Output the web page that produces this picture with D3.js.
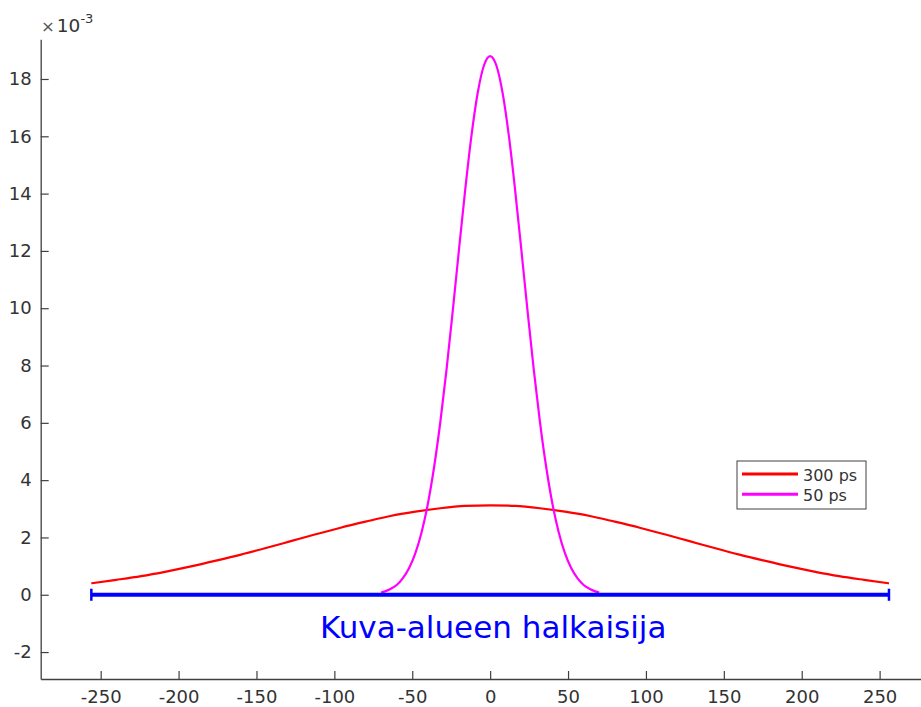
<!DOCTYPE html>
<html>
<head>
<meta charset="utf-8">
<script src="https://cdn.jsdelivr.net/npm/d3@7"></script>
<style>
  html, body { margin: 0; padding: 0; background: #ffffff; }
  svg { display: block; }
  text { font-family: "DejaVu Sans", sans-serif; }
</style>
</head>
<body>
<script>
// Position along the detector (mm) and the resulting blur profiles (×10^-3)
const redX = [-256, -240, -224, -208, -192, -176, -160, -144, -128, -112, -96, -80, -64, -48, -32, -16,
              0, 16, 32, 48, 64, 80, 96, 112, 128, 144, 160, 176, 192, 208, 224, 240, 256];
const redY = [0.40, 0.52, 0.65, 0.81, 0.99, 1.19, 1.40, 1.63, 1.87, 2.11, 2.34, 2.55, 2.75, 2.90, 3.02, 3.10,
              3.12, 3.10, 3.02, 2.90, 2.75, 2.55, 2.34, 2.11, 1.87, 1.63, 1.40, 1.19, 0.99, 0.81, 0.65, 0.52, 0.40];

const magX = [-70, -68, -64, -60, -56, -52, -48, -44, -40, -36, -32, -28, -24, -20, -16, -12, -8, -4,
              0, 4, 8, 12, 16, 20, 24, 28, 32, 36, 40, 44, 48, 52, 56, 60, 64, 68, 70];
const magY = [0.08, 0.11, 0.20, 0.34, 0.58, 0.93, 1.45, 2.18, 3.17, 4.45, 6.02, 7.86, 9.91, 12.05, 14.14, 16.02, 17.51, 18.47,
              18.80, 18.47, 17.51, 16.02, 14.14, 12.05, 9.91, 7.86, 6.02, 4.45, 3.17, 2.18, 1.45, 0.93, 0.58, 0.34, 0.20, 0.11, 0.08];

// Field-of-view diameter bar
const barX = [-256, 256];
const barY = 0;
const barCap = 0.21;

const seriesNames = ["300 ps", "50 ps"];
const seriesColors = ["#ff0000", "#ff00ff"];
const xTicks = [-250, -200, -150, -100, -50, 0, 50, 100, 150, 200, 250];
const yTicks = [-2, 0, 2, 4, 6, 8, 10, 12, 14, 16, 18];
const barLabel = "Kuva-alueen halkaisija";

const W = 921, H = 707;
const axisColor = "#404040", textColor = "#333333";

const svg = d3.select("body").append("svg")
  .attr("width", W).attr("height", H);

const x = d3.scaleLinear().domain([-288.5, 288.5]).range([40.7, 939.6]);
const y = d3.scaleLinear().domain([-2.94, 19.385]).range([679, 39.3]);

// Plain hyphen-minus for negative tick labels
const fmt = v => String(v);

// Axes (ticks point inward)
const xAxis = d3.axisBottom(x).tickValues(xTicks).tickFormat(fmt)
  .tickSizeInner(-8).tickSizeOuter(0).tickPadding(11);
const yAxis = d3.axisLeft(y).tickValues(yTicks).tickFormat(fmt)
  .tickSizeInner(-8).tickSizeOuter(0).tickPadding(9);

const gx = svg.append("g").attr("transform", `translate(0,${y.range()[0]})`).call(xAxis);
const gy = svg.append("g").attr("transform", `translate(${x.range()[0]},0)`).call(yAxis);
[gx, gy].forEach(g => {
  g.selectAll("path.domain").attr("stroke", axisColor).attr("stroke-width", 1.3);
  g.selectAll(".tick line").attr("stroke", axisColor).attr("stroke-width", 1.2);
  g.selectAll(".tick text").attr("fill", textColor).style("font-size", "18px")
    .style("font-family", "DejaVu Sans, sans-serif");
});

// Exponent label above the y axis
const expo = svg.append("text").attr("x", 41).attr("y", 32).attr("fill", textColor)
  .style("font-size", "18.5px");
expo.append("tspan").text("×").attr("fill", "#555").style("font-size", "16.5px");
expo.append("tspan").attr("dx", 2).text("10");
expo.append("tspan").attr("dy", -9).style("font-size", "13px").text("-3");

const line = d3.line().x(d => x(d[0])).y(d => y(d[1])).curve(d3.curveMonotoneX);

// Profiles
svg.append("path").datum(d3.zip(redX, redY))
  .attr("d", line).attr("fill", "none")
  .attr("stroke", seriesColors[0]).attr("stroke-width", 2.2);
svg.append("path").datum(d3.zip(magX, magY))
  .attr("d", line).attr("fill", "none")
  .attr("stroke", seriesColors[1]).attr("stroke-width", 2.2);

// Diameter bar with end caps
svg.append("line")
  .attr("x1", x(barX[0])).attr("x2", x(barX[1]))
  .attr("y1", y(barY)).attr("y2", y(barY))
  .attr("stroke", "#0000ff").attr("stroke-width", 4);
barX.forEach(v => {
  svg.append("line")
    .attr("x1", x(v)).attr("x2", x(v))
    .attr("y1", y(barY - barCap)).attr("y2", y(barY + barCap))
    .attr("stroke", "#0000ff").attr("stroke-width", 2.5);
});
svg.append("text")
  .attr("x", x(0) + 3).attr("y", 638)
  .attr("text-anchor", "middle")
  .attr("fill", "#0000ff")
  .style("font-size", "31px")
  .text(barLabel);

// Legend
const lg = svg.append("g").attr("transform", "translate(737,461)");
lg.append("rect").attr("x", 0).attr("y", 0).attr("width", 129).attr("height", 48)
  .attr("fill", "#ffffff").attr("stroke", axisColor).attr("stroke-width", 1);
seriesNames.forEach((name, i) => {
  const yy = 13 + i * 20.3;
  lg.append("line").attr("x1", 5).attr("x2", 61).attr("y1", yy).attr("y2", yy)
    .attr("stroke", seriesColors[i]).attr("stroke-width", 3);
  lg.append("text").attr("x", 66).attr("y", yy + 7)
    .attr("fill", textColor).style("font-size", "16px").text(name);
});
</script>
</body>
</html>
